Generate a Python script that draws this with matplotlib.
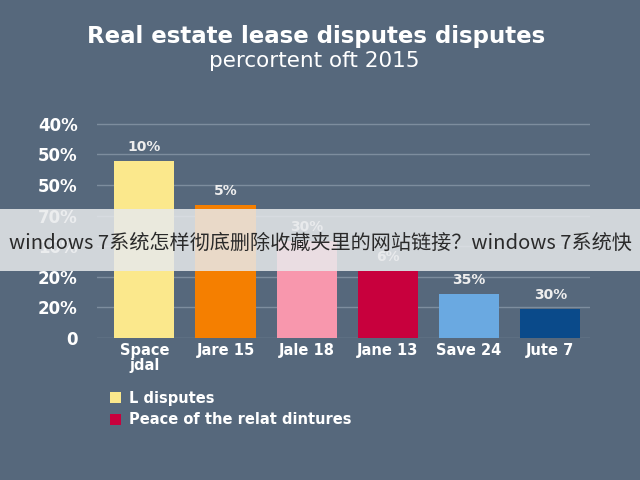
import matplotlib
matplotlib.use("Agg")
import matplotlib.pyplot as plt
from matplotlib.patches import Patch, Rectangle

categories = ["Space\njdal", "Jare 15", "Jale 18", "Jane 13", "Save 24", "Jute 7"]
values = [5.79, 4.35, 3.17, 2.20, 1.44, 0.95]
value_labels = ["10%", "5%", "30%", "6%", "35%", "30%"]
bar_colors = ["#FBE88C", "#F57F00", "#F897AD", "#C8003D", "#6AA9E1", "#0A4A8A"]
ytick_labels = ["0", "20%", "20%", "10%", "70%", "50%", "50%", "40%"]
legend_labels = ["L disputes", "Peace of the relat dintures"]
legend_colors = ["#FBE88C", "#C8003D"]
title = "Real estate lease disputes disputes"
subtitle = "percortent oft 2015"
banner = "windows 7系统怎样彻底删除收藏夹里的网站链接？windows 7系统快"

bg = "#56687C"
fig = plt.figure(figsize=(6.4, 4.8), dpi=100, facecolor=bg)
ax = fig.add_axes([0.152, 0.296, 0.770, 0.459], facecolor=bg)

x = list(range(len(categories)))
ax.bar(x, values, width=0.74, color=bar_colors, zorder=3)
for xi, v, lab in zip(x, values, value_labels):
    ax.annotate(lab, (xi, v), xytext=(0, 5), textcoords="offset points",
                ha="center", va="bottom", color="#EEEEEE", fontsize=10,
                fontweight="bold", zorder=4)

ax.set_xlim(-0.579, 5.49)
ax.set_ylim(0, 7.2)
ax.set_yticks(range(len(ytick_labels)))
ax.set_yticklabels(ytick_labels)
ax.set_xticks(x)
ax.set_xticklabels(categories)
ax.tick_params(axis="y", length=0, pad=14, labelsize=12, labelcolor="white")
ax.tick_params(axis="x", length=0, pad=4, labelsize=10.5, labelcolor="white")
for lab in ax.get_xticklabels() + ax.get_yticklabels():
    lab.set_fontweight("bold")
    lab.set_linespacing(1.0)
ax.grid(axis="y", color="#7D8D9E", linewidth=1, zorder=0)
ax.set_axisbelow(True)
for s in ax.spines.values():
    s.set_visible(False)

fig.text(0.494, 0.923, title, ha="center", va="center", color="white",
         fontsize=16.5, fontweight="bold")
fig.text(0.491, 0.872, subtitle, ha="center", va="center", color="white",
         fontsize=15.5)

handles = [Patch(facecolor=c, edgecolor="none") for c in legend_colors]
leg = fig.legend(handles, legend_labels, loc="upper left",
                 bbox_to_anchor=(0.172, 0.186), frameon=False,
                 handlelength=0.75, handleheight=0.75, handletextpad=0.55,
                 labelspacing=0.45, borderaxespad=0, borderpad=0,
                 prop={"size": 10.5, "weight": "bold"})
for t in leg.get_texts():
    t.set_color("white")

fig.patches.append(Rectangle((0, 1 - 271 / 480), 1, 62 / 480,
                             transform=fig.transFigure, facecolor="#E8EAEC",
                             alpha=0.85, edgecolor="none", zorder=10))
fig.text(0.5, 1 - 243 / 480, banner, ha="center", va="center",
         color="#2A2A2A", fontsize=14.5, zorder=11,
         family=["Noto Sans CJK SC", "DejaVu Sans"])

fig.savefig("out.png", dpi=100, facecolor=bg)
